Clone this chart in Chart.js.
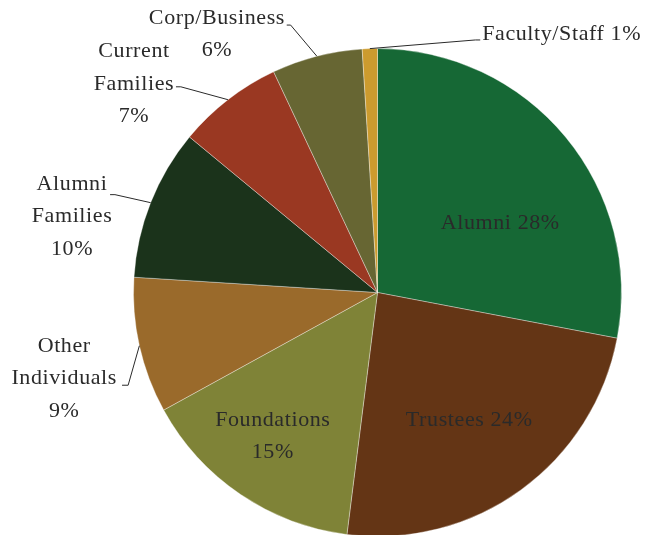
<!DOCTYPE html>
<html>
<head>
<meta charset="utf-8">
<script src="https://cdn.jsdelivr.net/npm/chart.js@4"></script>
<style>
  html, body { margin: 0; padding: 0; background: #fff; overflow: hidden; }
  #wrap { width: 647px; height: 540px; }
</style>
</head>
<body>
<div id="wrap"><canvas id="graphic"></canvas></div>
<script>
const categories = ["Alumni", "Trustees", "Foundations", "Other Individuals", "Alumni Families", "Current Families", "Corp/Business", "Faculty/Staff"];
const values = [28, 24, 15, 9, 10, 7, 6, 1];
const colors = ["#166835", "#643515", "#7f8337", "#9a6a2b", "#1b331b", "#9a3822", "#676633", "#cc9b2e"];
const labelLines = [
  ["Alumni 28%"],
  ["Trustees 24%"],
  ["Foundations", "15%"],
  ["Other", "Individuals", "9%"],
  ["Alumni", "Families", "10%"],
  ["Current", "Families", "7%"],
  ["Corp/Business", "6%"],
  ["Faculty/Staff 1%"]
];

// label placement, in units of the pie radius from its centre
const labelLayout = [
  { x: 0.503, y: -0.282 },
  { x: 0.376, y: 0.524 },
  { x: -0.429, y: 0.589 },
  { x: -1.284, y: 0.352, stub: [-1.047, 0.380], elbow: [-1.022, 0.380] },
  { x: -1.252, y: -0.311, stub: [-1.096, -0.401], elbow: [-1.076, -0.401] },
  { x: -0.998, y: -0.855, stub: [-0.826, -0.843], elbow: [-0.806, -0.843] },
  { x: -0.658, y: -1.059, stub: [-0.372, -1.096], elbow: [-0.356, -1.096] },
  { x: 0.429, y: -1.059, align: "left", stub: [0.421, -1.035], elbow: [0.401, -1.035] }
];

const pieLabels = {
  id: "pieLabels",
  afterDraw(chart) {
    const ctx = chart.ctx;
    const arcs = chart.getDatasetMeta(0).data;
    ctx.save();
    ctx.font = '22px "Liberation Serif", serif';
    ctx.letterSpacing = "0.6px";
    ctx.fillStyle = "#2a2a2a";
    ctx.strokeStyle = "#2a2a2a";
    ctx.lineWidth = 1;
    ctx.textBaseline = "middle";
    arcs.forEach((arc, i) => {
      const { x, y, startAngle, endAngle, outerRadius } = arc.getProps(["x", "y", "startAngle", "endAngle", "outerRadius"], true);
      const R = outerRadius;
      const L = labelLayout[i];
      if (L.stub) {
        const mid = (startAngle + endAngle) / 2;
        ctx.beginPath();
        ctx.moveTo(x + Math.cos(mid) * R, y + Math.sin(mid) * R);
        ctx.lineTo(x + L.elbow[0] * R, y + L.elbow[1] * R);
        ctx.lineTo(x + L.stub[0] * R, y + L.stub[1] * R);
        ctx.stroke();
      }
      const lines = labelLines[i];
      const lh = 32.5;
      ctx.textAlign = L.align || "center";
      const cx = x + L.x * R;
      const cy = y + L.y * R - (lines.length - 1) * lh / 2;
      lines.forEach((t, k) => ctx.fillText(t, cx, cy + k * lh));
    });
    ctx.restore();
  }
};

new Chart(document.getElementById("graphic").getContext("2d"), {
  type: "pie",
  data: {
    labels: categories,
    datasets: [{
      data: values,
      backgroundColor: colors,
      borderColor: "rgba(255,255,255,0.35)",
      borderWidth: 1
    }]
  },
  options: {
    responsive: true,
    maintainAspectRatio: false,
    animation: false,
    layout: { padding: { top: 48, bottom: 3, left: 133, right: 25 } },
    plugins: {
      legend: { display: false },
      tooltip: { enabled: false }
    }
  },
  plugins: [pieLabels]
});
</script>
</body>
</html>
